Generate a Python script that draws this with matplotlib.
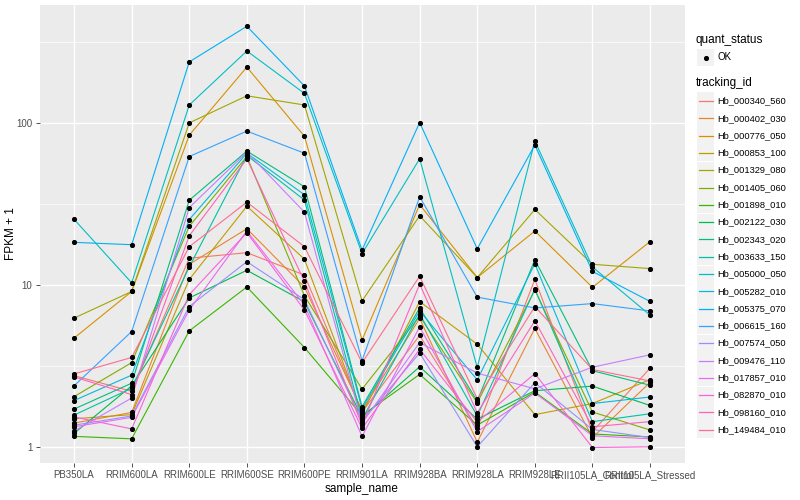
import matplotlib
matplotlib.use('Agg')
import matplotlib.pyplot as plt
import numpy as np
from matplotlib.patches import Rectangle
from matplotlib.lines import Line2D

plt.rcParams['font.family'] = ['Liberation Sans', 'DejaVu Sans']

samples = ['PB350LA', 'RRIM600LA', 'RRIM600LE', 'RRIM600SE', 'RRIM600PE',
           'RRIM901LA', 'RRIM928BA', 'RRIM928LA', 'RRIM928LE',
           'RRII105LA_Control', 'RRII105LA_Stressed']

tracking_ids = ['Hb_000340_560', 'Hb_000402_030', 'Hb_000776_050', 'Hb_000853_100',
                'Hb_001329_080', 'Hb_001405_060', 'Hb_001898_010', 'Hb_002122_030',
                'Hb_002343_020', 'Hb_003633_150', 'Hb_005000_050', 'Hb_005282_010',
                'Hb_005375_070', 'Hb_006615_160', 'Hb_007574_050', 'Hb_009476_110',
                'Hb_017857_010', 'Hb_082870_010', 'Hb_098160_010', 'Hb_149484_010']

colors = ['#F8766D', '#EA8331', '#D89000', '#C09B00', '#A3A500', '#7CAE00',
          '#39B600', '#00BB4E', '#00BF7D', '#00C1A3', '#00BFC4', '#00BAE0',
          '#00B0F6', '#35A2FF', '#9590FF', '#C77CFF', '#E76BF3', '#FA62DB',
          '#FF62BC', '#FF6C91']

Hb_000340_560 = [2.75, 2.2, 14.6, 15.8, 11.5, 1.64, 4.87, 1.3, 10.8, 1.24, 3.06]
Hb_000402_030 = [1.40, 1.63, 13.4, 22.2, 9.7, 1.68, 6.2, 1.07, 5.38, 1.14, 2.5]
Hb_000776_050 = [4.69, 9.1, 84, 221, 82.7, 4.56, 31.3, 11.1, 21.5, 9.65, 18.5]
Hb_000853_100 = [1.49, 1.58, 10.8, 30.6, 14.4, 1.6, 7.88, 4.3, 1.58, 1.85, 2.6]
Hb_001329_080 = [6.23, 9.1, 100, 147, 129, 7.96, 26.7, 11.1, 29.2, 13.4, 12.6]
Hb_001405_060 = [2.04, 3.31, 23, 62, 8.56, 2.27, 6.4, 1.87, 9.3, 1.64, 1.27]
Hb_001898_010 = [1.16, 1.12, 5.2, 9.7, 4.1, 1.56, 2.8, 1.36, 2.18, 1.2, 1.15]
Hb_002122_030 = [1.21, 2.38, 8.3, 12.3, 7.86, 1.52, 3.12, 1.48, 2.22, 2.37, 1.8]
Hb_002343_020 = [1.71, 2.47, 33.3, 67, 40.3, 1.77, 7.2, 1.92, 14.3, 2.95, 2.4]
Hb_003633_150 = [1.57, 2.3, 12.9, 63, 33.4, 1.48, 6.6, 1.55, 9.4, 1.43, 1.6]
Hb_005000_050 = [25.4, 10.3, 129, 278, 152, 15.6, 60, 3.09, 77.4, 12.9, 6.5]
Hb_005282_010 = [1.93, 2.77, 25.3, 65, 36, 1.72, 6.9, 2.59, 13.5, 1.85, 2.03]
Hb_005375_070 = [18.3, 17.7, 238, 395, 169, 16.4, 100.5, 16.7, 73, 12.1, 7.9]
Hb_006615_160 = [2.38, 5.15, 62, 89, 65, 3.4, 35, 8.4, 7.2, 7.66, 6.9]
Hb_007574_050 = [1.36, 1.55, 7.35, 13.9, 8.1, 1.44, 3.8, 1.0, 2.49, 1.28, 1.14]
Hb_009476_110 = [1.25, 2.0, 30, 66, 28.1, 1.4, 4.4, 2.85, 2.28, 3.1, 3.7]
Hb_017857_010 = [1.33, 1.52, 7.0, 21.5, 7.5, 1.16, 5.5, 1.24, 2.15, 1.17, 1.12]
Hb_082870_010 = [1.53, 1.29, 8.7, 21, 7.0, 1.3, 4.0, 1.42, 2.83, 0.99, 1.0]
Hb_098160_010 = [2.7, 2.1, 20.1, 60, 10.5, 1.36, 10.1, 1.62, 6.0, 1.33, 1.43]
Hb_149484_010 = [2.82, 3.56, 17.2, 32.4, 17.2, 3.3, 11.3, 1.98, 7.35, 3.0, 2.55]

series = [Hb_000340_560, Hb_000402_030, Hb_000776_050, Hb_000853_100, Hb_001329_080,
          Hb_001405_060, Hb_001898_010, Hb_002122_030, Hb_002343_020, Hb_003633_150,
          Hb_005000_050, Hb_005282_010, Hb_005375_070, Hb_006615_160, Hb_007574_050,
          Hb_009476_110, Hb_017857_010, Hb_082870_010, Hb_098160_010, Hb_149484_010]

W, H = 800, 500
fig = plt.figure(figsize=(8, 5), dpi=100)
ax = fig.add_axes([39.5 / W, 1 - 463 / H, (684.6 - 39.5) / W, (463 - 5) / H])
ax.set_facecolor('#EBEBEB')

x = np.arange(len(samples))
for vals, c in zip(series, colors):
    ax.plot(x, vals, color=c, lw=0.8, zorder=2)
for vals in series:
    ax.plot(x, vals, ls='none', marker='o', ms=2.7, color='black', zorder=3)

ax.set_yscale('log')
ax.set_ylim(10 ** -0.1, 10 ** 2.728)
ax.set_xlim(-0.6, len(samples) - 1 + 0.6)

# grid
for v in [1, 10, 100]:
    ax.axhline(v, color='white', lw=1.0, zorder=1)
for v in [10 ** 0.5, 10 ** 1.5, 10 ** 2.5]:
    ax.axhline(v, color='white', lw=0.5, zorder=1)
for xi in x:
    ax.axvline(xi, color='white', lw=1.0, zorder=1)

ax.set_yticks([1, 10, 100])
ax.set_yticklabels(['1', '10', '100'])
ax.yaxis.set_minor_locator(matplotlib.ticker.NullLocator())
ax.set_xticks(x)
ax.set_xticklabels(samples)
ax.tick_params(axis='both', colors='#333333', labelcolor='#4D4D4D', labelsize=7,
               length=3, width=0.6, pad=2)
for s in ax.spines.values():
    s.set_visible(False)
ax.set_xlabel('sample_name', fontsize=8.5, labelpad=2)
ax.set_ylabel('FPKM + 1', fontsize=8.5)
ax.yaxis.set_label_coords(-0.035, 0.5)

# legend (manual, ggplot style)
def fx(px):
    return px / W

def fy(py):
    return 1 - py / H

key_w, key_h = 17, 17
kx = 697
fig.text(fx(696), fy(40), 'quant_status', fontsize=8.5, va='center', ha='left')
fig.patches.append(Rectangle((fx(kx), fy(49 + key_h)), key_w / W, key_h / H,
                             transform=fig.transFigure, facecolor='#F2F2F2',
                             edgecolor='none'))
fig.lines.append(Line2D([fx(kx + key_w / 2)], [fy(57.5)], transform=fig.transFigure,
                        marker='o', ms=2.7, color='black', ls='none'))
fig.text(fx(717), fy(57.5), 'OK', fontsize=7, va='center', ha='left')

fig.text(fx(696), fy(83), 'tracking_id', fontsize=8.5, va='center', ha='left')
y0 = 101
step = 17.3
for i, (tid, c) in enumerate(zip(tracking_ids, colors)):
    yc = y0 + i * step
    fig.patches.append(Rectangle((fx(kx), fy(yc + key_h / 2)), key_w / W, key_h / H,
                                 transform=fig.transFigure, facecolor='#F2F2F2',
                                 edgecolor='none'))
    fig.lines.append(Line2D([fx(kx + 1.5), fx(kx + key_w - 1.5)], [fy(yc), fy(yc)],
                            transform=fig.transFigure, color=c, lw=0.9))
    fig.text(fx(717), fy(yc), tid, fontsize=6.7, va='center', ha='left')

fig.savefig('out.png', dpi=100, facecolor='white')
